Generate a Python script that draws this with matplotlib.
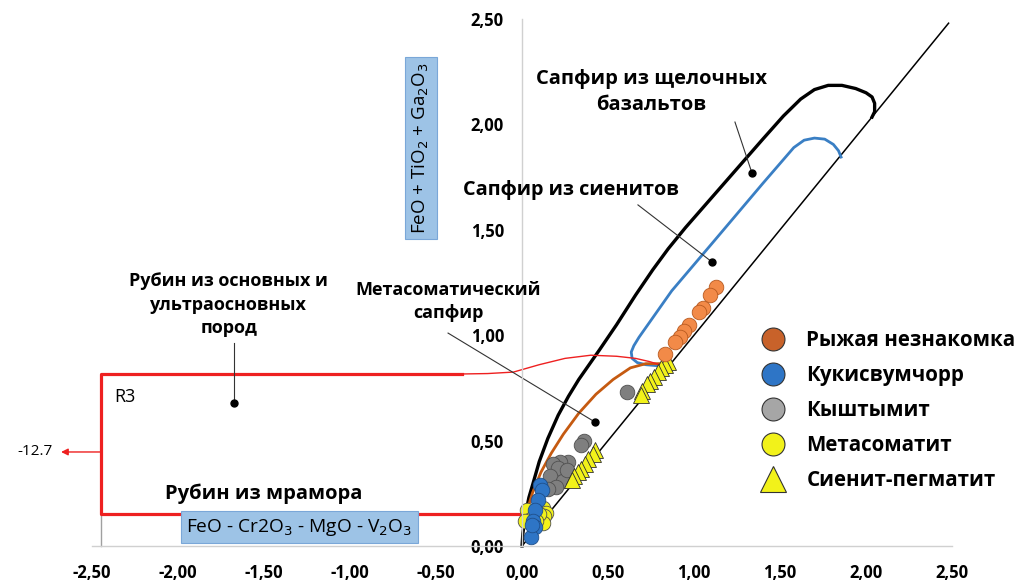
import matplotlib
matplotlib.use("Agg")
import matplotlib.pyplot as plt
from matplotlib.lines import Line2D

plt.rcParams['font.family'] = ['Open Sans', 'DejaVu Sans']

# ---------------- data ----------------
ticks_x = [-2.5, -2.0, -1.5, -1.0, -0.5, 0.0, 0.5, 1.0, 1.5, 2.0, 2.5]
ticks_y = [0.0, 0.5, 1.0, 1.5, 2.0, 2.5]

orange_x = [1.13, 1.09, 1.05, 1.03, 0.97, 0.94, 0.92, 0.89, 0.83]
orange_y = [1.23, 1.19, 1.13, 1.11, 1.05, 1.02, 0.99, 0.97, 0.91]

blue_x = [0.105, 0.115, 0.09, 0.075, 0.065, 0.075, 0.055, 0.06]
blue_y = [0.29, 0.265, 0.22, 0.17, 0.12, 0.09, 0.045, 0.10]

gray_x = [0.61, 0.36, 0.34, 0.27, 0.22, 0.18, 0.21, 0.16, 0.24, 0.20, 0.15, 0.26]
gray_y = [0.73, 0.50, 0.48, 0.40, 0.40, 0.39, 0.37, 0.33, 0.31, 0.28, 0.27, 0.36]

yellow_x = [0.03, 0.12, 0.14, 0.13, 0.12, 0.05, 0.02, 0.10, 0.08]
yellow_y = [0.17, 0.18, 0.155, 0.14, 0.11, 0.13, 0.12, 0.15, 0.12]

tri_x = [0.85, 0.83, 0.81, 0.79, 0.77, 0.745, 0.725, 0.70, 0.69,
         0.424, 0.41, 0.386, 0.366, 0.345, 0.325, 0.305, 0.289]
tri_y = [0.875, 0.859, 0.843, 0.825, 0.80, 0.783, 0.767, 0.736, 0.716,
         0.455, 0.436, 0.412, 0.389, 0.365, 0.35, 0.33, 0.313]

# field boundaries
outer_x = [0, 0.005, 0.02, 0.04, 0.065, 0.10, 0.15, 0.21, 0.27, 0.33, 0.39, 0.45, 0.55,
           0.66, 0.76, 0.85, 0.95, 1.10, 1.25, 1.40, 1.52, 1.62, 1.70, 1.78, 1.86, 1.94,
           2.00, 2.035, 2.05, 2.05, 2.035]
outer_y = [0, 0.06, 0.15, 0.23, 0.30, 0.40, 0.51, 0.62, 0.71, 0.79, 0.86, 0.93, 1.05,
           1.19, 1.31, 1.41, 1.51, 1.65, 1.79, 1.93, 2.04, 2.12, 2.165, 2.185, 2.185, 2.17,
           2.15, 2.13, 2.10, 2.06, 2.035]

syen_x = [0.79, 0.72, 0.67, 0.64, 0.635, 0.65, 0.68, 0.87, 1.12, 1.40, 1.58, 1.64, 1.70,
          1.76, 1.81, 1.84, 1.855]
syen_y = [0.855, 0.86, 0.87, 0.89, 0.92, 0.95, 0.99, 1.21, 1.45, 1.72, 1.89, 1.925, 1.935,
          1.93, 1.905, 1.875, 1.845]

meta_x = [0.01, 0.03, 0.06, 0.11, 0.17, 0.24, 0.33, 0.43, 0.53, 0.63, 0.72, 0.80]
meta_y = [0.10, 0.17, 0.25, 0.35, 0.44, 0.53, 0.63, 0.72, 0.79, 0.845, 0.865, 0.865]

red_thin_x = [-0.35, -0.2, -0.05, 0.1, 0.25, 0.40, 0.55, 0.66, 0.74, 0.80]
red_thin_y = [0.816, 0.818, 0.825, 0.86, 0.89, 0.905, 0.90, 0.89, 0.875, 0.86]

red_box_x = [-0.35, -2.45, -2.45, 0.02]
red_box_y = [0.816, 0.816, 0.152, 0.152]

diag_x = [0.0, 2.48]
diag_y = [0.0, 2.48]

# ---------------- figure ----------------
fig = plt.figure(figsize=(10.21, 5.83), dpi=100)
ax = fig.add_axes([0, 0, 1, 1])
ax.set_xlim(-3.035, 2.901)
ax.set_ylim(-0.1755, 2.590)

for s in ['top', 'right']:
    ax.spines[s].set_visible(False)
ax.spines['left'].set_position(('data', 0))
ax.spines['left'].set_bounds(0, 2.5)
ax.spines['bottom'].set_position(('data', 0))
ax.spines['bottom'].set_bounds(-2.5, 2.5)
for s in ['left', 'bottom']:
    ax.spines[s].set_color('#d0d0d0')
    ax.spines[s].set_linewidth(1.0)

fmt = lambda v: f"{v:.2f}".replace('.', ',')
ax.set_xticks(ticks_x)
ax.set_xticklabels([fmt(v) for v in ticks_x])
ax.set_yticks(ticks_y)
ax.set_yticklabels([fmt(v) for v in ticks_y])
ax.tick_params(length=0, labelsize=12, pad=13)
for lab in ax.get_xticklabels() + ax.get_yticklabels():
    lab.set_fontweight('bold')

# gray small vertical line at the left end
ax.plot([-2.45, -2.45], [0, 0.15], color='#a0a0a0', lw=1.0)

# lines
ax.plot(diag_x, diag_y, color='black', lw=1.1)
ax.plot(outer_x, outer_y, color='black', lw=2.4, solid_joinstyle='round')
ax.plot(syen_x, syen_y, color='#3a7fc4', lw=2.0, solid_joinstyle='round')
ax.plot(meta_x, meta_y, color='#c55a11', lw=2.0, solid_joinstyle='round')
ax.plot(red_thin_x, red_thin_y, color='#ee2020', lw=1.0)
ax.plot(red_box_x, red_box_y, color='#ee2020', lw=2.3)

# arrow -12.7
ax.annotate('', xy=(-2.68, 0.446), xytext=(-2.45, 0.446),
            arrowprops=dict(arrowstyle='-|>', color='#ee2020', lw=1.0,
                            mutation_scale=10, shrinkA=0, shrinkB=0))
ax.text(-2.83, 0.446, '-12.7', fontsize=11, ha='center', va='center')

# points
ms = 10.5
ax.plot(gray_x, gray_y, 'o', ms=ms, mfc='#7f7f7f', mec='#505050', mew=0.6, ls='none')
ax.plot(yellow_x, yellow_y, 'o', ms=ms, mfc='#f2f21a', mec='#505050', mew=0.6, ls='none')
ax.plot(tri_x, tri_y, '^', ms=ms + 1, mfc='#f2f21a', mec='#303030', mew=0.6, ls='none')
ax.plot(blue_x, blue_y, 'o', ms=ms, mfc='#2e75c6', mec='#1f4f8a', mew=0.6, ls='none')
ax.plot(orange_x, orange_y, 'o', ms=ms, mfc='#f28a48', mec='#b85a20', mew=0.6, ls='none')

# leader lines with dots
leaders = [
    ((1.238, 2.011), (1.337, 1.769)),
    ((0.674, 1.618), (1.105, 1.347)),
    ((-0.43, 1.01), (0.424, 0.588)),
    ((-1.674, 0.963), (-1.674, 0.678)),
]
for (x0, y0), (x1, y1) in leaders:
    ax.plot([x0, x1], [y0, y1], color='#333333', lw=0.8)
    ax.plot([x1], [y1], 'o', color='black', ms=5)

# annotations
ax.text(0.752, 2.154, 'Сапфир из щелочных\nбазальтов', fontsize=14.5, fontweight='bold',
        ha='center', va='center', linespacing=1.45)
ax.text(0.285, 1.69, 'Сапфир из сиенитов', fontsize=14.3, fontweight='bold',
        ha='center', va='center')
ax.text(-0.43, 1.16, 'Метасоматический\nсапфир', fontsize=13, fontweight='bold',
        ha='center', va='center', linespacing=1.35)
ax.text(-1.705, 1.145, 'Рубин из основных и\nультраосновных\nпород', fontsize=13,
        fontweight='bold', ha='center', va='center', linespacing=1.4)
ax.text(-2.37, 0.705, 'R3', fontsize=13, ha='left', va='center')
ax.text(-1.50, 0.247, 'Рубин из мрамора', fontsize=14.5, fontweight='bold',
        ha='center', va='center')

box = dict(boxstyle='square,pad=0.3', fc='#9dc3e6', ec='#7aa7d8', lw=0.8)
ax.text(-1.294, 0.09, 'FeO - Cr2O$_3$ - MgO - V$_2$O$_3$', fontsize=13.8, ha='center',
        va='center', bbox=box)
ax.text(-0.587, 1.888, 'FeO + TiO$_2$ + Ga$_2$O$_3$', fontsize=13.5, rotation=90,
        ha='center', va='center', bbox=box)

# legend
handles = [
    Line2D([], [], marker='o', ls='none', ms=16.5, mfc='#c8622a', mec='#333333', mew=0.8),
    Line2D([], [], marker='o', ls='none', ms=16.5, mfc='#2e75c6', mec='#333333', mew=0.8),
    Line2D([], [], marker='o', ls='none', ms=16.5, mfc='#a6a6a6', mec='#333333', mew=0.8),
    Line2D([], [], marker='o', ls='none', ms=16.5, mfc='#f2f21a', mec='#333333', mew=0.8),
    Line2D([], [], marker='^', ls='none', ms=19, mfc='#f2f21a', mec='#333333', mew=0.8),
]
labels = ['Рыжая незнакомка', 'Кукисвумчорр', 'Кыштымит', 'Метасоматит', 'Сиенит-пегматит']
leg = ax.legend(handles, labels, loc='upper left', bbox_to_anchor=(752 / 1021, 1 - 322 / 583),
                frameon=False, prop=dict(size=14.8, weight='bold'), handletextpad=1.05,
                labelspacing=0.68, handlelength=1.2, borderaxespad=0)

fig.savefig('out.png', dpi=100)
